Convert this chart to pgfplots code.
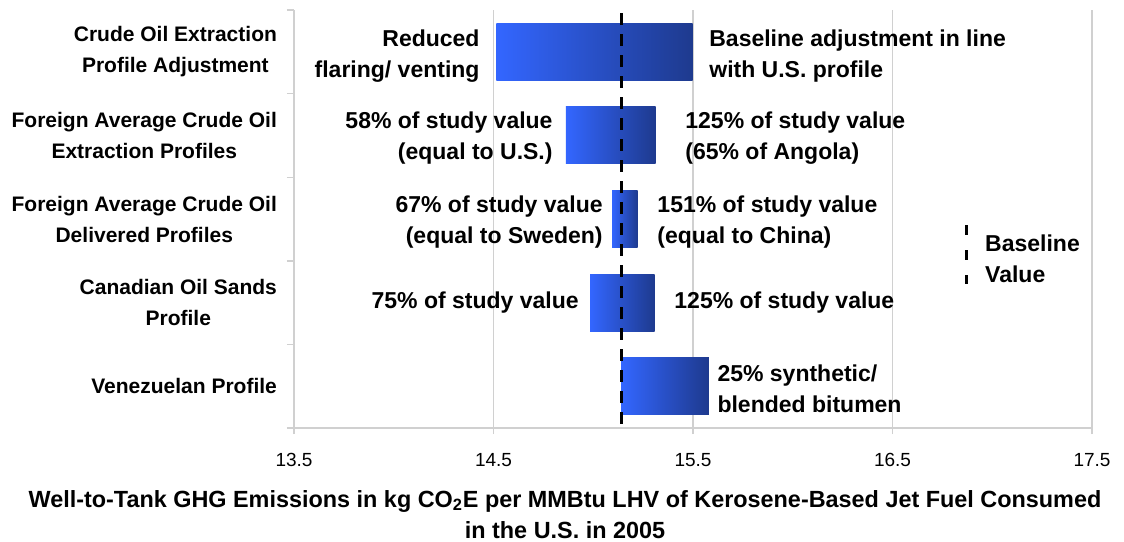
\documentclass[border=0pt]{standalone}
\usepackage{fontspec}
\setmainfont{Liberation Sans}
\usepackage{pgfplots}
\pgfplotsset{compat=1.18}

\definecolor{barlight}{RGB}{51,102,255}
\definecolor{bardark}{RGB}{30,58,142}
\definecolor{gridgray}{RGB}{208,208,208}

\newcommand\annot{\fontsize{11.5}{15.5}\selectfont\bfseries}

\begin{document}
\begin{tikzpicture}
\begin{axis}[
  width=399pt, height=209pt, scale only axis,
  xmin=13.5, xmax=17.5, ymin=-0.5, ymax=4.5,
  axis lines=left,
  axis line style={draw=gridgray, line width=0.7pt, -},
  xtick={13.5,14.5,15.5,16.5,17.5},
  xticklabels={13.5,14.5,15.5,16.5,17.5},
  xmajorgrids, major grid style={gridgray, line width=0.7pt},
  tick align=outside,
  major tick length=3pt, minor tick length=3.5pt,
  major x tick style={draw=gridgray, line width=0.7pt},
  major y tick style={draw=none},
  minor y tick style={draw=gridgray, line width=0.7pt},
  ytick={0,1,2,3,4},
  minor ytick={-0.5,0.5,1.5,2.5,3.5,4.5},
  yticklabels={{Venezuelan Profile},{Canadian Oil Sands\\Profile},{Foreign Average Crude Oil\\Delivered Profiles},{Foreign Average Crude Oil\\Extraction Profiles},{Crude Oil Extraction\\Profile Adjustment}},
  yticklabel style={align=center, font=\fontsize{10.5}{15.5}\selectfont\bfseries, xshift=-2pt},
  xticklabel style={font=\fontsize{9.5}{11}\selectfont, yshift=-6pt},
  /pgf/number format/assume math mode=true,
  xlabel={Well-to-Tank GHG Emissions in kg CO\textsubscript{2}E per MMBtu LHV of Kerosene-Based Jet Fuel Consumed\\in the U.S. in 2005},
  xlabel style={align=center, font=\fontsize{11.7}{15.5}\selectfont\bfseries, yshift=-5pt, xshift=-64pt},
  clip=false,
  legend style={at={(axis cs:16.86,1.55)}, anchor=west, draw=none, fill=none, inner sep=0pt,
    cells={align=left}, font=\annot},
]
% one shaded bar per plot: low end to high end, bar half-height 0.341
\addplot[draw=none, left color=barlight, right color=bardark, forget plot]
  coordinates {(14.515,3.659) (15.498,3.659) (15.498,4.341) (14.515,4.341)};
\addplot[draw=none, left color=barlight, right color=bardark, forget plot]
  coordinates {(14.863,2.659) (15.313,2.659) (15.313,3.341) (14.863,3.341)};
\addplot[draw=none, left color=barlight, right color=bardark, forget plot]
  coordinates {(15.094,1.659) (15.223,1.659) (15.223,2.341) (15.094,2.341)};
\addplot[draw=none, left color=barlight, right color=bardark, forget plot]
  coordinates {(14.984,0.659) (15.308,0.659) (15.308,1.341) (14.984,1.341)};
\addplot[draw=none, left color=barlight, right color=bardark, forget plot]
  coordinates {(15.140,-0.341) (15.579,-0.341) (15.579,0.341) (15.140,0.341)};

% baseline value
\addplot[black, line width=1.5pt, dash pattern=on 6pt off 4.5pt,
  legend image code/.code={\draw[black, line width=1.5pt, dash pattern=on 5pt off 7.5pt] (0pt,17.25pt) -- (0pt,-12.25pt); \path[draw=none] (0pt,0pt) -- (7.5pt,0pt);}]
  coordinates {(15.14,4.46) (15.14,-0.5)};
\addlegendentry{Baseline\\Value}

\node[anchor=east, align=right, font=\annot, inner sep=0pt, yshift=-2pt] at (axis cs:14.432,4) {Reduced\\flaring/ venting};
\node[anchor=west, align=left, font=\annot, inner sep=0pt, yshift=-2pt] at (axis cs:15.580,4) {Baseline adjustment in line\\with U.S. profile};
\node[anchor=east, align=right, font=\annot, inner sep=0pt, yshift=-1.5pt] at (axis cs:14.798,3) {58\% of study value\\(equal to U.S.)};
\node[anchor=west, align=left, font=\annot, inner sep=0pt, yshift=-1.5pt] at (axis cs:15.460,3) {125\% of study value\\(65\% of Angola)};
\node[anchor=east, align=right, font=\annot, inner sep=0pt, yshift=-1.5pt] at (axis cs:15.049,2) {67\% of study value\\(equal to Sweden)};
\node[anchor=west, align=left, font=\annot, inner sep=0pt, yshift=-1.5pt] at (axis cs:15.320,2) {151\% of study value\\(equal to China)};
\node[anchor=east, align=right, font=\annot, inner sep=0pt] at (axis cs:14.929,1) {75\% of study value};
\node[anchor=west, align=left, font=\annot, inner sep=0pt] at (axis cs:15.405,1) {125\% of study value};
\node[anchor=west, align=left, font=\annot, inner sep=0pt, yshift=-1.5pt] at (axis cs:15.621,0) {25\% synthetic/\\blended bitumen};

\coordinate (bl) at (rel axis cs:0,0);
\end{axis}
\pgfresetboundingbox
\path ([shift={(-147pt,-56.5pt)}]bl) rectangle ([shift={(415pt,214pt)}]bl);
\end{tikzpicture}
\end{document}
